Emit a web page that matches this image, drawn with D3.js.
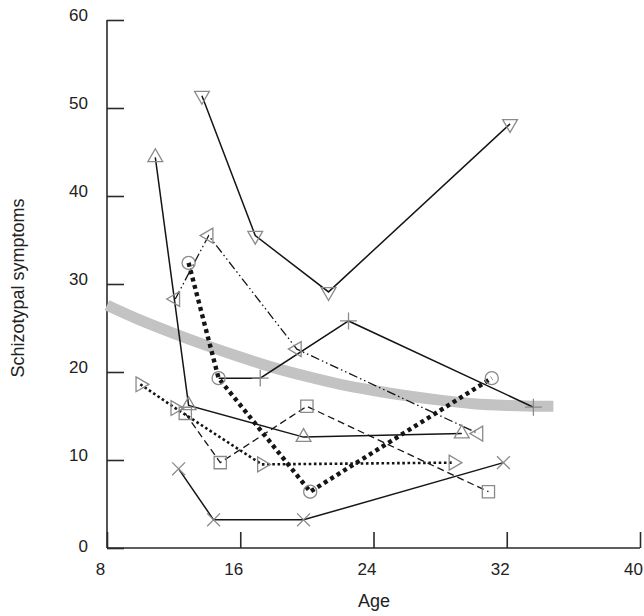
<!DOCTYPE html>
<html>
<head>
<meta charset="utf-8">
<script src="https://cdn.jsdelivr.net/npm/d3@7"></script>
<style>
  html, body { margin: 0; padding: 0; background: #fff; }
  svg { display: block; }
  text { font-family: "Liberation Sans", Arial, sans-serif; fill: #222; }
</style>
</head>
<body>
<svg id="chart" width="644" height="616"></svg>
<script>
// ---------- data ----------
const xTicks = [8, 16, 24, 32, 40];
const yTicks = [0, 10, 20, 30, 40, 50, 60];
const xLabel = "Age";
const yLabel = "Schizotypal symptoms";

// individual trajectories: ages and symptom scores
const s1Age = [13.7, 16.9, 21.3, 32.2], s1Val = [51.4, 35.5, 29.1, 48.2]; // down triangle
const s2Age = [10.9, 12.9, 19.8, 29.3], s2Val = [44.4, 16.2, 12.6, 13.0]; // up triangle
const s3Age = [12.1, 14.1, 19.4, 30.3], s3Val = [28.3, 35.5, 22.6, 13.0]; // left triangle
const s4Age = [12.9, 14.7, 20.2, 31.1], s4Val = [32.4, 19.3, 6.4, 19.3];  // circle
const s5Age = [14.7, 17.2, 22.5, 33.6], s5Val = [19.3, 19.3, 25.8, 16.0]; // plus
const s6Age = [12.7, 14.8, 20.0, 30.9], s6Val = [15.3, 9.7, 16.1, 6.4];   // square
const s7Age = [10.0, 12.1, 17.3, 28.8], s7Val = [18.6, 15.9, 9.5, 9.7];   // right triangle
const s8Age = [12.3, 14.4, 19.8, 31.8], s8Val = [9.0, 3.2, 3.2, 9.7];     // x

// group mean trajectory (thick grey curve)
const meanAge = [8, 10, 12, 14, 16, 18, 20, 22, 24, 26, 28, 30, 32, 34, 34.8];
const meanVal = [27.6, 25.9, 24.4, 23.0, 21.7, 20.5, 19.5, 18.6, 17.9, 17.3, 16.8, 16.4, 16.2, 16.1, 16.1];

// ---------- styles ----------
const series = [
  { age: s1Age, val: s1Val, shape: "down",  dash: null,              width: 1.5 },
  { age: s2Age, val: s2Val, shape: "up",    dash: null,              width: 1.5 },
  { age: s3Age, val: s3Val, shape: "left",  dash: "9 3 1.5 3 1.5 3", width: 1.3 },
  { age: s4Age, val: s4Val, shape: "circle",dash: "4 3.6",           width: 4.4 },
  { age: s5Age, val: s5Val, shape: "plus",  dash: null,              width: 1.5, hideFirst: true },
  { age: s6Age, val: s6Val, shape: "square",dash: "7 4",             width: 1.3 },
  { age: s7Age, val: s7Val, shape: "right", dash: "2.6 2.6",         width: 2.6 },
  { age: s8Age, val: s8Val, shape: "x",     dash: null,              width: 1.5 }
];

const svg = d3.select("#chart");
const x = d3.scaleLinear().domain([8, 40]).range([107, 640]);
const y = d3.scaleLinear().domain([0, 60]).range([548, 20]);

const axisColor = "#2a2a2a";
const fontFam = '"Liberation Sans", Arial, sans-serif';

// ---------- axes ----------
const xAxis = d3.axisBottom(x).tickValues(xTicks).tickSize(-16).tickPadding(0).tickFormat(d3.format("d"));
const gx = svg.append("g").attr("transform", `translate(0,${y(0)})`).call(xAxis);
gx.select(".domain").attr("stroke", axisColor).attr("stroke-width", 1.6).attr("d", `M${x(8)},0H${x(40)}`);
gx.selectAll(".tick line").attr("stroke", axisColor).attr("stroke-width", 1.6);
gx.selectAll(".tick text").attr("y", 15).attr("dx", -7).attr("font-size", 17)
  .style("font-family", fontFam).attr("fill", "#222");

const yAxis = d3.axisLeft(y).tickValues(yTicks).tickSize(-17).tickPadding(0).tickFormat(d3.format("d"));
const gy = svg.append("g").attr("transform", `translate(${x(8)},0)`).call(yAxis);
gy.select(".domain").attr("stroke", axisColor).attr("stroke-width", 1.6).attr("d", `M0,${y(0)}V${y(60)}`);
gy.selectAll(".tick line").attr("stroke", axisColor).attr("stroke-width", 1.6);
gy.selectAll(".tick text").attr("x", -19).attr("dy", "0.0em").attr("font-size", 17)
  .style("font-family", fontFam).attr("fill", "#222");
gy.selectAll(".tick").filter(d => d === 0).select("text").attr("dy", "0.2em");

// axis titles
svg.append("text").attr("x", 374).attr("y", 607).attr("text-anchor", "middle")
  .attr("font-size", 18).text(xLabel);
svg.append("text").attr("transform", "translate(24,288) rotate(-90)")
  .attr("text-anchor", "middle").attr("font-size", 18).text(yLabel);

// ---------- mean curve ----------
const meanPts = meanAge.map((a, i) => [a, meanVal[i]]);
svg.append("path")
  .attr("d", d3.line().x(d => x(d[0])).y(d => y(d[1])).curve(d3.curveMonotoneX)(meanPts))
  .attr("fill", "none").attr("stroke", "#c3c3c3").attr("stroke-width", 11);

// ---------- individual lines ----------
const line = d3.line().x(d => x(d[0])).y(d => y(d[1]));
series.forEach(s => {
  const pts = s.age.map((a, i) => [a, s.val[i]]);
  svg.append("path").attr("d", line(pts))
    .attr("fill", "none").attr("stroke", "#151515")
    .attr("stroke-width", s.width)
    .attr("stroke-dasharray", s.dash)
    .attr("stroke-linejoin", "miter");
});

// ---------- markers ----------
const markerColor = "#8a8a8a";
function symbolFor(shape) {
  switch (shape) {
    case "up": case "down": case "left": case "right":
      return { path: d3.symbol(d3.symbolTriangle, 95)(),
               rot: { up: 0, down: 180, left: -90, right: 90 }[shape] };
    case "circle": return { path: d3.symbol(d3.symbolCircle, 135)(), rot: 0 };
    case "square": return { path: d3.symbol(d3.symbolSquare, 150)(), rot: 0 };
    case "plus":   return { path: d3.symbol(d3.symbolPlus, 95)(), rot: 0 };
    case "x":      return { path: d3.symbol(d3.symbolTimes, 110)(), rot: 0 };
  }
}
series.forEach(s => {
  const sym = symbolFor(s.shape);
  const pts = s.age.map((a, i) => [a, s.val[i]]).filter((d, i) => !(s.hideFirst && i === 0));
  svg.append("g").selectAll("path").data(pts).join("path")
    .attr("d", sym.path)
    .attr("transform", d => `translate(${x(d[0])},${y(d[1])}) rotate(${sym.rot})`)
    .attr("fill", "none").attr("stroke", markerColor).attr("stroke-width", 1.3);
});
</script>
</body>
</html>
